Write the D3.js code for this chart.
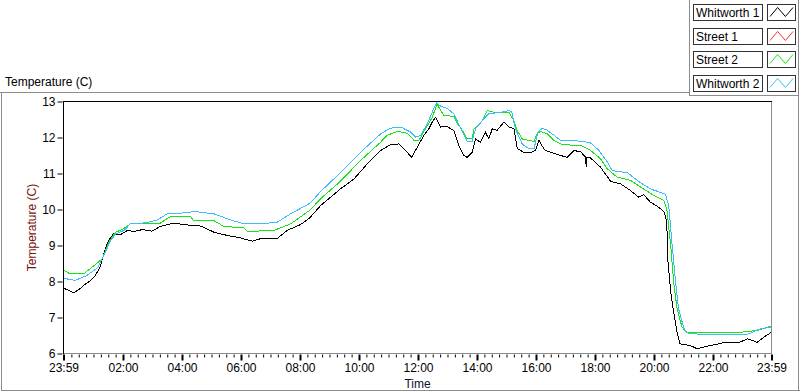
<!DOCTYPE html>
<html><head><meta charset="utf-8">
<script src="https://cdn.jsdelivr.net/npm/d3@7"></script>
<style>
body{margin:0;background:#fff}
svg{display:block}
text{font-family:"Liberation Sans",Arial,sans-serif}
</style>
</head><body>
<svg id="chart" width="800" height="392"></svg>
<script>
// ---- data (time in minutes from midnight; -1 = 23:59 of previous day) ----
const seriesNames = ["Whitworth 1", "Street 1", "Street 2", "Whitworth 2"];
const seriesColors = ["#000000", "#ff3030", "#14e614", "#3cbcff"];

const whitworth1 = [[-1,7.82],[5,7.78],[20,7.69],[30,7.77],[40,7.89],[54,8.03],[64,8.17],[74,8.42],[81,8.77],[88,9.05],[95,9.23],[101,9.32],[115,9.30],[129,9.42],[142,9.39],[159,9.44],[179,9.40],[196,9.53],[223,9.62],[251,9.57],[278,9.54],[305,9.37],[332,9.28],[359,9.21],[383,9.12],[400,9.19],[434,9.20],[454,9.42],[481,9.58],[500,9.77],
[522,10.11],[562,10.57],[590,10.85],[617,11.27],[644,11.64],[664,11.80],[681,11.82],[698,11.59],[707,11.45],[715,11.64],[732,12.06],[742,12.24],[749,12.43],[756,12.56],[766,12.29],[779,12.31],[793,12.19],[803,11.78],[813,11.50],[820,11.45],[830,11.59],[837,11.96],[847,11.87],[857,12.15],[864,11.96],[871,12.24],[881,12.20],[895,12.43],[905,12.29],[915,12.25],[922,11.69],[935,11.59],[949,11.58],[959,11.64],[966,11.92],[973,11.75],[979,11.64],[990,11.59],
[1010,11.50],[1024,11.45],[1037,11.64],[1051,11.60],[1061,11.45],[1062,11.18],[1063,11.45],[1071,11.43],[1091,11.18],[1112,10.78],[1132,10.71],[1152,10.53],[1169,10.34],[1179,10.41],[1193,10.20],[1210,10.06],[1221,9.93],[1226,9.65],[1228,8.63],[1234,7.70],[1240,7.15],[1247,6.59],[1253,6.27],[1274,6.22],[1288,6.13],[1308,6.20],[1342,6.30],[1376,6.32],[1390,6.41],[1410,6.31],[1423,6.45],[1439,6.59]];

const street2 = [[-1,8.31],[13,8.21],[40,8.21],[61,8.44],[78,8.63],[91,9.09],[105,9.37],[118,9.44],[135,9.60],[196,9.62],[217,9.81],[257,9.81],[264,9.69],[305,9.69],[325,9.53],[366,9.49],[373,9.39],[427,9.42],[461,9.60],[501,9.99],
[522,10.30],[562,10.78],[603,11.36],[644,11.87],[657,12.06],[678,12.17],[698,12.12],[712,11.92],[722,11.92],[735,12.24],[749,12.56],[759,12.93],[766,12.75],[773,12.61],[793,12.59],[800,12.38],[813,12.15],[820,11.96],[830,11.96],[834,12.24],[851,12.47],[861,12.75],[874,12.70],[905,12.70],[915,12.47],[922,12.19],[932,11.96],[956,11.89],[962,12.10],[969,12.17],[983,12.10],[996,11.92],
[1013,11.80],[1051,11.78],[1071,11.64],[1091,11.41],[1105,11.13],[1125,10.90],[1152,10.81],[1173,10.62],[1200,10.39],[1220,10.25],[1226,10.02],[1234,9.00],[1240,7.98],[1247,7.24],[1257,6.73],[1268,6.57],[1288,6.59],[1376,6.59],[1410,6.64],[1437,6.76],[1439,6.76]];

const street1 = street2.map(p => [p[0], p[1]]);

const whitworth2 = [[-1,8.09],[23,8.03],[47,8.17],[68,8.38],[81,8.72],[95,9.14],[105,9.32],[122,9.42],[135,9.60],[166,9.63],[190,9.71],[210,9.88],[251,9.91],[264,9.95],[305,9.88],[339,9.71],[366,9.60],[400,9.60],[434,9.65],[461,9.88],[501,10.18],
[522,10.50],[562,11.02],[603,11.59],[644,12.10],[664,12.26],[685,12.29],[705,12.15],[715,12.01],[725,12.05],[739,12.38],[752,12.80],[758,12.96],[766,12.87],[779,12.81],[793,12.66],[807,12.24],[820,11.89],[830,11.89],[837,12.24],[854,12.52],[864,12.66],[888,12.70],[905,12.75],[911,12.70],[918,12.24],[932,11.82],[945,11.69],[956,11.69],[964,12.15],[973,12.26],[983,12.20],[996,12.07],
[1010,11.92],[1051,11.90],[1071,11.85],[1088,11.64],[1105,11.32],[1115,11.08],[1146,11.02],[1173,10.74],[1193,10.57],[1223,10.43],[1230,10.11],[1237,9.00],[1244,7.98],[1250,7.24],[1261,6.69],[1271,6.55],[1329,6.52],[1390,6.53],[1417,6.69],[1439,6.73]];

const yTicks = [6, 7, 8, 9, 10, 11, 12, 13];
const xMajorTicks = [-1, 120, 240, 360, 480, 600, 720, 840, 960, 1080, 1200, 1320, 1439];
const xTickLabels = ["23:59","02:00","04:00","06:00","08:00","10:00","12:00","14:00","16:00","18:00","20:00","22:00","23:59"];
const xMinorTicks = d3.range(0, 1440, 15).filter(m => m % 120 !== 0);

// ---- drawing ----
const svg = d3.select("#chart");
const L = 63.5, R = 771.5, T = 101.5, B = 353.5;
const x = d3.scaleLinear().domain([-1, 1439]).range([L, R]);
const y = d3.scaleLinear().domain([6, 13]).range([B, T]);

// outer frame lines
const gray = "#8c8c8c";
const frame = svg.append("g").attr("stroke", gray).attr("fill", "none").attr("shape-rendering","crispEdges");
frame.append("path").attr("d", "M0,92.5H689.5");
frame.append("path").attr("d", "M1.5,92.5V390.5H800");
frame.append("path").attr("d", "M689.5,0V95.5H798.5");
frame.append("path").attr("d", "M798.5,0V390.5");

svg.append("text").attr("x", 5).attr("y", 86).attr("font-size", 12).attr("fill", "#000").text("Temperature (C)");

// plot area
svg.append("rect").attr("x", L).attr("y", T).attr("width", R - L).attr("height", B - T).attr("fill", "#fff");
svg.append("clipPath").attr("id", "clip").append("rect")
  .attr("x", L).attr("y", T).attr("width", R - L).attr("height", B - T);

const line = d3.line().x(d => x(d[0])).y(d => y(d[1]));
const allSeries = [whitworth1, street1, street2, whitworth2];
svg.append("g").attr("clip-path", "url(#clip)")
  .selectAll("path").data(allSeries).join("path")
  .attr("d", line).attr("fill", "none")
  .attr("stroke", (d, i) => seriesColors[i]).attr("stroke-width", 1)
  .attr("shape-rendering", "crispEdges");

// plot border: dark top/left, gray right/bottom
svg.append("path").attr("d", `M${L},${B}V${T}H${R}`).attr("stroke", "#000").attr("fill", "none").attr("shape-rendering","crispEdges");
svg.append("path").attr("d", `M${R},${T}V${B}H${L}`).attr("stroke", gray).attr("fill", "none").attr("shape-rendering","crispEdges");

// y axis
const yAxis = svg.append("g").attr("transform", `translate(${L - 1},0)`)
  .call(d3.axisLeft(y).tickValues(yTicks).tickSize(5).tickPadding(2).tickFormat(d3.format("d")));
yAxis.select(".domain").remove();
yAxis.selectAll("text").attr("font-size", 12).attr("font-family", "'Liberation Sans',Arial,sans-serif").attr("fill", "#000");
yAxis.selectAll("line").attr("stroke", "#000");

// x axis minor
const xMinor = svg.append("g").attr("transform", `translate(0,${B + 1})`)
  .call(d3.axisBottom(x).tickValues(xMinorTicks).tickSize(3).tickFormat(""));
xMinor.select(".domain").remove();
xMinor.selectAll("line").attr("stroke", "#000");

// x axis major
const xAxis = svg.append("g").attr("transform", `translate(0,${B + 1})`)
  .call(d3.axisBottom(x).tickValues(xMajorTicks).tickSize(6).tickPadding(3).tickFormat((d, i) => xTickLabels[i]));
xAxis.select(".domain").remove();
xAxis.selectAll("line").attr("stroke", "#000").attr("stroke-width", 2);
xAxis.selectAll("text").attr("font-size", 12).attr("font-family", "'Liberation Sans',Arial,sans-serif").attr("fill", "#000");

// axis titles
svg.append("text").attr("transform", `translate(36,${(T + B) / 2}) rotate(-90)`)
  .attr("text-anchor", "middle").attr("font-size", 12).attr("fill", "#7a1010").text("Temperature (C)");
svg.append("text").attr("x", (L + R) / 2).attr("y", 388).attr("text-anchor", "middle")
  .attr("font-size", 12).attr("fill", "#101030").text("Time");

// legend
const legend = svg.append("g");
const rowTops = seriesNames.map((n, i) => 4 + i * 23.67);
seriesNames.forEach((name, i) => {
  const top = Math.round(rowTops[i]) + 0.5;
  legend.append("rect").attr("x", 693.5).attr("y", top).attr("width", 69).attr("height", 16)
    .attr("fill", "#fff").attr("stroke", "#333");
  legend.append("text").attr("x", 696).attr("y", top + 12.5).attr("font-size", 12).attr("fill", "#000").text(name);
  legend.append("rect").attr("x", 767.5).attr("y", top).attr("width", 28).attr("height", 16)
    .attr("fill", "#fff").attr("stroke", "#333");
  const sx = d3.scaleLinear().domain([0, 1]).range([770, 793]);
  const sy = d3.scaleLinear().domain([0, 1]).range([top + 12, top + 3]);
  const zig = [[0, 0], [0.33, 1], [0.67, 0], [1, 1]];
  legend.append("path").attr("d", d3.line().x(d => sx(d[0])).y(d => sy(d[1]))(zig))
    .attr("fill", "none").attr("stroke", seriesColors[i]).attr("stroke-width", 1);
});
</script>
</body></html>
